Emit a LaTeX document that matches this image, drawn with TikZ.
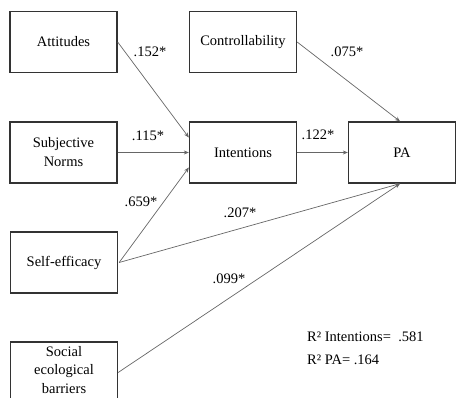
\documentclass[tikz,border=0pt]{standalone}
\usepackage{fontspec}
\setmainfont{Liberation Serif}
\usetikzlibrary{arrows.meta}
\begin{document}
\begin{tikzpicture}[x=1pt,y=-1pt,
  varbox/.style={draw=black!80, line width=1.3pt, minimum width=107pt, minimum height=61pt,
    inner sep=2pt, align=center, font=\fontsize{14.5}{19}\selectfont},
  path/.style={draw=black!60, line width=0.7pt, -{Stealth[length=5pt,width=4pt]}},
  coef/.style={font=\fontsize{14.5}{17}\selectfont, inner sep=0pt},
  note/.style={font=\fontsize{14.5}{17}\selectfont, inner sep=0pt, anchor=west}]
\useasboundingbox (0,0) rectangle (456,398);
\begin{scope}
\clip (0,0) rectangle (456,398);
% predictor boxes
\node[varbox] (att)  at (63.5,42)    {Attitudes};
\node[varbox] (sn)   at (63.5,152.5) {Subjective\\Norms};
\node[varbox] (se)   at (64,262.5)   {Self-efficacy};
\node[varbox] (seb)  at (64,372.5)   {};
\node[font=\fontsize{14.5}{18.5}\selectfont, align=center, inner sep=0pt] (sebtext) at (64,370)
  {Social\\ecological\\barriers};
\node[varbox] (ctrl) at (243,42)     {Controllability};
\node[varbox] (int)  at (243,152.5)  {Intentions};
\node[varbox] (pa)   at (402,152.5)  {PA};
% paths into intentions
\draw[path] (att.east) -- ([yshift=15pt]int.west);
\draw[path] (sn.east) -- (int.west);
\draw[path] ([xshift=1pt]se.east) -- ([yshift=-15pt]int.west);
% paths into PA
\draw[path] (ctrl.east) -- ([xshift=-2pt]pa.north);
\draw[path] (int.east) -- (pa.west);
\draw[path] ([xshift=1pt]se.east) -- ([xshift=-2pt]pa.south);
\draw[path] (seb.east) -- ([xshift=-2pt]pa.south);
\end{scope}
% path coefficients
\node[coef] (c1) at (150,52)  {.152*};
\node[coef] (c2) at (148,136) {.115*};
\node[coef] (c3) at (141,202) {.659*};
\node[coef] (c4) at (347,52)  {.075*};
\node[coef] (c5) at (318,135) {.122*};
\node[coef] (c6) at (240,213) {.207*};
\node[coef] (c7) at (229,279) {.099*};
% explained variance
\node[note] (r1) at (307,337) {R² Intentions=\ \ .581};
\node[note] (r2) at (307,360) {R² PA=\ .164};
\end{tikzpicture}
\end{document}
